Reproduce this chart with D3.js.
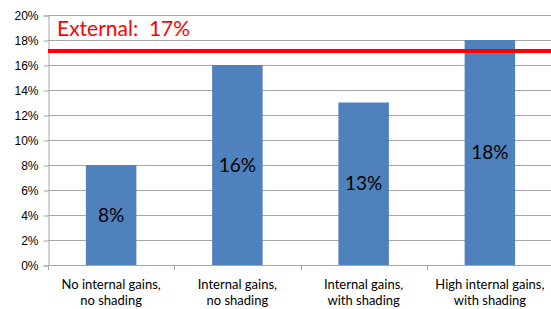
<!DOCTYPE html>
<html>
<head>
<meta charset="utf-8">
<script src="https://cdn.jsdelivr.net/npm/d3@7"></script>
<style>
body{margin:0;background:#fff;}
svg{display:block;font-family:Lato,"Open Sans",sans-serif;}
</style>
</head>
<body>
<svg id="chart" width="551" height="309"></svg>
<script>
// data
var categories = [["No internal gains,","no shading"],["Internal gains,","no shading"],["Internal gains,","with shading"],["High internal gains,","with shading"]];
var values = [8, 16, 13, 18];
var yTicks = [0, 2, 4, 6, 8, 10, 12, 14, 16, 18, 20];
var externalValue = 17;
var externalLabel = "External:  17%";

var barColor = "#4f81bd";
var gridColor = "#a6a6a6";

var svg = d3.select("#chart");
var plotL = 48, plotR = 553, plotT = 15, plotB = 265;

var x = d3.scaleBand()
    .domain(d3.range(categories.length))
    .range([plotL, plotR])
    .paddingInner(0.6)
    .paddingOuter(0.3);
var xb = d3.scaleBand().domain(d3.range(categories.length)).range([plotL, plotR]);
var y = d3.scaleLinear().domain([0, 20]).range([plotB, plotT]);

// grid lines
svg.append("g").selectAll("line")
    .data(yTicks)
    .enter().append("line")
    .attr("x1", plotL).attr("x2", 551)
    .attr("y1", function(d){ return Math.round(y(d)) + 0.5; })
    .attr("y2", function(d){ return Math.round(y(d)) + 0.5; })
    .style("stroke", gridColor)
    .style("stroke-width", 1);

// y axis
var yAxis = svg.append("g")
    .attr("transform", "translate(" + (plotL + 0.5) + ",0.5)")
    .call(d3.axisLeft(y).tickValues(yTicks).tickSize(5).tickFormat(function(d){ return d + "%"; }));
yAxis.select(".domain").attr("stroke", gridColor);
yAxis.selectAll(".tick line").attr("stroke", gridColor);
yAxis.selectAll("text").attr("x", -10).style("font-size", "12px").style("fill", "#000");

// x ticks
svg.append("g").selectAll("line")
    .data(d3.range(categories.length + 1))
    .enter().append("line")
    .attr("x1", function(d){ return Math.round(plotL + d * xb.bandwidth()) + 0.5; })
    .attr("x2", function(d){ return Math.round(plotL + d * xb.bandwidth()) + 0.5; })
    .attr("y1", plotB).attr("y2", plotB + 5)
    .style("stroke", gridColor);

// bars
svg.append("g").selectAll("rect")
    .data(values)
    .enter().append("rect")
    .attr("x", function(d, i){ return x(i); })
    .attr("width", x.bandwidth())
    .attr("y", function(d){ return y(d); })
    .attr("height", function(d){ return y(0) - y(d); })
    .attr("fill", barColor);

// bar labels
svg.append("g").selectAll("text")
    .data(values)
    .enter().append("text")
    .attr("x", function(d, i){ return x(i) + x.bandwidth() / 2; })
    .attr("y", function(d){ return (y(d) + y(0)) / 2 + 6.5; })
    .attr("text-anchor", "middle")
    .style("font-size", "19px")
    .style("fill", "#000")
    .text(function(d){ return d + "%"; });

// category labels
var cat = svg.append("g").selectAll("text")
    .data(categories)
    .enter().append("text")
    .attr("text-anchor", "middle")
    .style("font-size", "13px")
    .style("fill", "#000");
cat.selectAll("tspan")
    .data(function(d, i){ return d.map(function(s){ return {s: s, i: i}; }); })
    .enter().append("tspan")
    .attr("x", function(d){ return xb(d.i) + xb.bandwidth() / 2; })
    .attr("y", function(d, j){ return 289 + j * 16; })
    .text(function(d){ return d.s; });

// external line
svg.append("line")
    .attr("x1", plotL).attr("x2", 551)
    .attr("y1", y(externalValue) - 1.5).attr("y2", y(externalValue) - 1.5)
    .style("stroke", "#ff0000")
    .style("stroke-width", 4);

svg.append("text")
    .attr("x", 57).attr("y", 36)
    .style("font-size", "21px")
    .style("fill", "#ff0000")
    .style("white-space", "pre")
    .text(externalLabel);
</script>
</body>
</html>
